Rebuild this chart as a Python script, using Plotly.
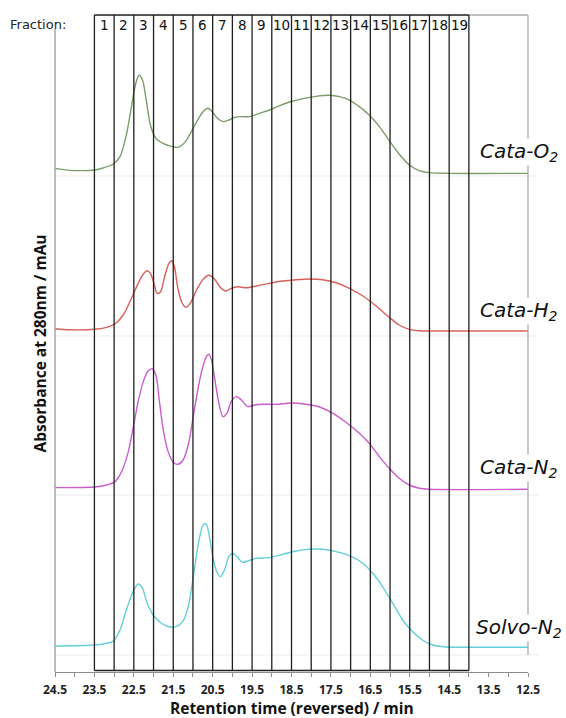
import plotly.graph_objects as go

# ---------------- data ----------------
fraction_bounds = [23.5, 23.0, 22.5, 22.0, 21.5, 21.0, 20.5, 20.0, 19.5, 19.0,
                   18.5, 18.0, 17.5, 17.0, 16.5, 16.0, 15.5, 15.0, 14.5, 14.0]
fraction_labels = [str(i) for i in range(1, 20)]

t_o2 = [24.5, 24.12, 23.78, 23.5, 23.28, 23.02, 22.85, 22.69, 22.56, 22.45, 22.37, 22.28, 22.18,
        22.08, 21.94, 21.76, 21.55, 21.38, 21.21, 21.04, 20.87, 20.73, 20.62, 20.51, 20.38, 20.24,
        20.09, 19.94, 19.77, 19.56, 19.31, 19.06, 18.80, 18.55, 18.21, 17.88, 17.54, 17.28, 17.03,
        16.78, 16.53, 16.27, 16.02, 15.77, 15.51, 15.26, 15.01, 14.5, 12.5]
a_o2 = [5.0, 3.0, 2.7, 3.3, 5.3, 9.3, 16.7, 38.3, 66.7, 90, 98, 93.3, 71.7, 48.3, 35, 30, 27, 26,
        30.7, 41.7, 54, 62.3, 65, 61.7, 55, 51.7, 53.3, 56, 56.7, 56.7, 60, 63.3, 67.7, 71.3, 74.7,
        77, 78, 76.7, 73.3, 66.7, 58.3, 46.7, 32.7, 19.3, 8.3, 2.7, 0.7, 0, 0]

t_h2 = [24.5, 24.12, 23.5, 23.19, 22.98, 22.77, 22.56, 22.39, 22.26, 22.16, 22.08, 21.99, 21.91,
        21.82, 21.72, 21.61, 21.54, 21.47, 21.39, 21.29, 21.18, 21.07, 20.91, 20.74, 20.59, 20.45,
        20.32, 20.17, 20.03, 19.86, 19.65, 19.39, 19.06, 18.72, 18.38, 18.04, 17.71, 17.37, 17.03,
        16.69, 16.36, 16.02, 15.77, 15.51, 15.26, 15.01, 12.5]
a_h2 = [2.3, 1.3, 1.7, 3.7, 7, 16, 32.7, 47.7, 57, 60.3, 57.7, 47.7, 37.7, 39.3, 54.3, 67.7, 70.3,
        64.3, 44.3, 29.3, 23.7, 27.7, 41, 51.7, 55.7, 51.7, 44.3, 40, 42.7, 44.3, 43.3, 45, 47.7,
        50, 51.3, 52, 51.3, 48.3, 42.7, 35, 25.3, 13.7, 6, 1.7, 0.3, 0, 0]

t_n2 = [24.5, 23.5, 23.19, 22.98, 22.81, 22.64, 22.52, 22.39, 22.26, 22.14, 22.03, 21.94, 21.86,
        21.76, 21.63, 21.50, 21.38, 21.25, 21.12, 21.00, 20.87, 20.76, 20.66, 20.60, 20.53, 20.45,
        20.35, 20.24, 20.14, 20.03, 19.90, 19.77, 19.61, 19.44, 19.23, 18.89, 18.51, 18.13, 17.79,
        17.45, 17.12, 16.78, 16.53, 16.27, 16.02, 15.77, 15.51, 15.26, 15.01, 12.5]
a_n2 = [1.7, 2.3, 4.3, 7.7, 17.7, 37.7, 61, 87.7, 107.7, 118.3, 120.3, 114.3, 91, 61, 37.7, 27, 25,
        29.3, 44.3, 71, 101, 121, 132.7, 135, 129.3, 111, 87.7, 72.7, 76, 87.7, 92.7, 89.3, 82.7,
        84.3, 85, 85, 86.3, 85, 82.3, 76, 67, 56, 46, 32.7, 21, 11, 4.3, 1, 0, 0]

t_solvo = [24.5, 23.5, 23.19, 23.02, 22.85, 22.69, 22.52, 22.39, 22.28, 22.16, 22.01, 21.80, 21.55,
           21.38, 21.25, 21.12, 21.01, 20.91, 20.81, 20.73, 20.66, 20.59, 20.49, 20.39, 20.30, 20.20,
           20.09, 19.99, 19.88, 19.75, 19.61, 19.39, 19.06, 18.72, 18.38, 18.04, 17.71, 17.37, 17.03,
           16.69, 16.44, 16.19, 15.93, 15.68, 15.43, 15.18, 14.92, 14.58, 14.08, 12.5]
a_solvo = [1.3, 2.3, 4, 6.3, 17.3, 37.3, 55.7, 63.3, 59, 44, 32.3, 24, 20, 21.3, 26.3, 40.7, 65.7,
           92.3, 114, 123, 123, 112.3, 89, 75, 70.7, 77.3, 90.7, 94, 90.7, 85, 86.3, 89, 89.7, 93,
           96.3, 98, 98, 95.7, 91.7, 84, 74, 60.7, 44, 27.3, 15.7, 7.3, 2.3, 0.3, 0, 0]

series_names = ["Cata-O<sub>2</sub>", "Cata-H<sub>2</sub>", "Cata-N<sub>2</sub>", "Solvo-N<sub>2</sub>"]
x_tick_labels = ["24.5", "23.5", "22.5", "21.5", "20.5", "19.5", "18.5", "17.5", "16.5",
                 "15.5", "14.5", "13.5", "12.5"]

# ---------------- styling ----------------
colors = ["#7c9c6a", "#d9605a", "#cc5ccc", "#62cfd9"]
domains = [[0.7549, 1.0], [0.5114, 0.7549], [0.2694, 0.5114], [0.0259, 0.2694]]
ranges = [[-2.7, 158.3], [-5.0, 155.0], [-5.7, 153.3], [-7.7, 152.3]]
label_pos = [(0.8964, 0.7915), (0.8964, 0.5495), (0.8964, 0.3105), (0.888, 0.067)]

times = [t_o2, t_h2, t_n2, t_solvo]
values = [a_o2, a_h2, a_n2, a_solvo]

fig = go.Figure()
for i in range(4):
    fig.add_trace(go.Scatter(
        x=times[i], y=values[i], mode="lines",
        line=dict(color=colors[i], width=1.4, shape="spline", smoothing=0.8),
        xaxis="x", yaxis="y" if i == 0 else f"y{i+1}",
        hoverinfo="skip", showlegend=False))

layout = dict(
    width=566, height=718,
    margin=dict(l=55, r=38, t=15, b=46),
    paper_bgcolor="white", plot_bgcolor="white",
    showlegend=False,
    xaxis=dict(
        range=[24.5, 12.5], anchor="free", position=0,
        showline=True, linecolor="#8c8c8c", linewidth=1,
        ticks="outside", ticklen=4, tickcolor="#8c8c8c",
        tickmode="array", tickvals=[float(v) for v in x_tick_labels], ticktext=x_tick_labels,
        tickfont=dict(family="Open Sans", size=12, color="#222222", weight="bold"),
        ticklabelstandoff=3,
        minor=dict(dtick=0.5, tick0=12.5, ticks="outside", ticklen=4, tickcolor="#8c8c8c"),
        showgrid=False, zeroline=False,
    ),
)
for i in range(4):
    key = "yaxis" if i == 0 else f"yaxis{i+1}"
    layout[key] = dict(domain=domains[i], range=ranges[i], visible=False,
                       anchor="x", showgrid=False, zeroline=False)
fig.update_layout(**layout)

shapes = []
# faint panel base lines
for i in range(4):
    yref = "y domain" if i == 0 else f"y{i+1} domain"
    shapes.append(dict(type="line", xref="paper", yref=yref, x0=0, x1=1.021, y0=0, y1=0,
                       line=dict(color="#ebebeb", width=1), layer="below"))
# left gray axis line
shapes.append(dict(type="line", xref="paper", yref="paper", x0=0, x1=0, y0=0, y1=0.9787,
                   line=dict(color="#a6a6a6", width=1.5)))
# right gray line and gray box top
shapes.append(dict(type="line", xref="paper", yref="paper", x0=1, x1=1, y0=0.0259, y1=1,
                   line=dict(color="#aaaaaa", width=1.3)))
shapes.append(dict(type="line", xref="x", yref="paper", x0=fraction_bounds[-1], x1=12.5, y0=1, y1=1,
                   line=dict(color="#aaaaaa", width=1.3)))
# fraction grid (black)
for b in fraction_bounds:
    shapes.append(dict(type="line", xref="x", yref="paper", x0=b, x1=b, y0=0.0023, y1=1,
                       line=dict(color="#1e1e1e", width=1.3)))
shapes.append(dict(type="line", xref="x", yref="paper", x0=fraction_bounds[0], x1=fraction_bounds[-1],
                   y0=1, y1=1, line=dict(color="#1e1e1e", width=1.3)))
shapes.append(dict(type="line", xref="x", yref="paper", x0=fraction_bounds[0], x1=fraction_bounds[-1],
                   y0=0.0023, y1=0.0023, line=dict(color="#1e1e1e", width=1.3)))
fig.update_layout(shapes=shapes)

ann = []
ann.append(dict(text="Fraction:", xref="paper", yref="paper", x=-0.036, y=0.9848,
                xanchor="center", yanchor="middle", showarrow=False,
                font=dict(family="DejaVu Sans", size=13, color="#222222")))
for k, lab in enumerate(fraction_labels):
    mid = (fraction_bounds[k] + fraction_bounds[k + 1]) / 2
    ann.append(dict(text=lab, xref="x", yref="paper", x=mid, y=0.9848,
                    xanchor="center", yanchor="middle", showarrow=False,
                    font=dict(family="DejaVu Sans", size=13.5, color="#111111")))
for i in range(4):
    ann.append(dict(text=series_names[i], xref="paper", yref="paper",
                    x=label_pos[i][0], y=label_pos[i][1], xanchor="left", yanchor="middle",
                    showarrow=False, bgcolor="white", borderpad=0,
                    font=dict(family="DejaVu Sans", size=20, color="#111111", style="italic")))
ann.append(dict(text="Absorbance at 280nm / mAu", xref="paper", yref="paper",
                x=-0.0338, y=0.5, textangle=-90, xanchor="center", yanchor="middle",
                showarrow=False,
                font=dict(family="Open Sans", size=15.5, color="#111111", weight="bold")))
ann.append(dict(text="Retention time (reversed) / min", xref="paper", yref="paper",
                x=0.5, y=-0.0545, xanchor="center", yanchor="middle", showarrow=False,
                font=dict(family="Open Sans", size=15.5, color="#111111", weight="bold")))
fig.update_layout(annotations=ann)

fig.write_html("out.html", config={"displayModeBar": False},
               post_script="document.body.style.margin='0';document.body.style.padding='0';")
